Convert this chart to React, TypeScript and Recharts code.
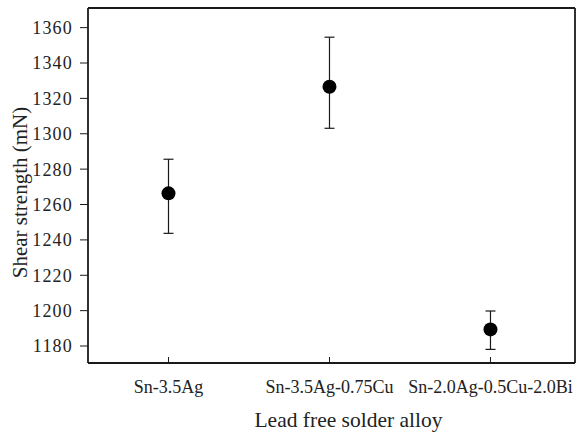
import { CartesianGrid, ErrorBar, Scatter, ScatterChart, XAxis, YAxis } from "recharts";

const alloys = ["Sn-3.5Ag", "Sn-3.5Ag-0.75Cu", "Sn-2.0Ag-0.5Cu-2.0Bi"];
const shearMean = [1266.3, 1326.6, 1189.4];
const shearLow = [1243.7, 1303.1, 1178.1];
const shearHigh = [1285.6, 1354.6, 1199.8];
const yTicks = [1180, 1200, 1220, 1240, 1260, 1280, 1300, 1320, 1340, 1360];

const FONT = '"Liberation Serif", "DejaVu Serif", serif';
const INK = "#1a1a1a";

const points = alloys.map((name, i) => ({
  x: i + 1,
  name,
  y: shearMean[i],
  err: [shearMean[i] - shearLow[i], shearHigh[i] - shearMean[i]],
}));

const X_DOMAIN: [number, number] = [0.5, 3.525];
const Y_DOMAIN: [number, number] = [1170.4, 1371.1];

// bottom ticks point inward, labels sit well below the axis
function AlloyTick(props: any) {
  const { x, y, payload } = props;
  return (
    <g>
      <line x1={x} y1={y} x2={x} y2={y - 6} stroke={INK} strokeWidth={1} />
      <text x={x} y={y + 24} dy="0.355em" textAnchor="middle" fontFamily={FONT} fontSize={18} fill="#222">
        {alloys[payload.value - 1]}
      </text>
    </g>
  );
}

function Dot(props: any) {
  return <circle cx={props.cx} cy={props.cy} r={7} fill="#000" />;
}

export default function App() {
  return (
    <div style={{ position: "absolute", left: 0, top: 0, background: "#fff" }}>
      <ScatterChart width={587} height={437} margin={{ top: 8, right: 12, bottom: 0, left: 28 }}>
        {/* only the frame: top and right edges of the plot box */}
        <CartesianGrid
          stroke={INK}
          strokeWidth={1.8}
          horizontalCoordinatesGenerator={({ offset }: any) => [offset.top]}
          verticalCoordinatesGenerator={({ offset }: any) => [offset.left + offset.width]}
        />
        <XAxis
          dataKey="x"
          type="number"
          domain={X_DOMAIN}
          ticks={[1, 2, 3]}
          allowDataOverflow
          height={74}
          tickSize={0}
          tickMargin={0}
          tickLine={false}
          tick={<AlloyTick />}
          axisLine={{ stroke: INK, strokeWidth: 1.8 }}
          label={{
            content: (p: any) => (
              <text
                x={p.viewBox.x + p.viewBox.width / 2 + 17}
                y={p.viewBox.y + 64}
                textAnchor="middle"
                fontFamily={FONT}
                fontSize={21.5}
                fill="#222"
              >
                Lead free solder alloy
              </text>
            ),
          }}
        />
        <YAxis
          dataKey="y"
          type="number"
          domain={Y_DOMAIN}
          ticks={yTicks}
          allowDataOverflow
          width={60}
          tickSize={8}
          tickMargin={7}
          tickLine={{ stroke: INK, strokeWidth: 1 }}
          axisLine={{ stroke: INK, strokeWidth: 1.8 }}
          tick={{ fontFamily: FONT, fontSize: 18, fill: "#222", letterSpacing: 1.2 }}
          label={{
            content: (p: any) => {
              const cx = p.viewBox.x - 8;
              const cy = p.viewBox.y + p.viewBox.height / 2 + 7;
              return (
                <text
                  x={cx}
                  y={cy}
                  transform={`rotate(-90 ${cx} ${cy})`}
                  textAnchor="middle"
                  dy="0.355em"
                  fontFamily={FONT}
                  fontSize={21}
                  fill="#222"
                >
                  Shear strength (mN)
                </text>
              );
            },
          }}
        />
        <Scatter data={points} dataKey="y" shape={<Dot />} isAnimationActive={false}>
          <ErrorBar dataKey="err" direction="y" width={5} stroke={INK} strokeWidth={1.2} isAnimationActive={false} />
        </Scatter>
      </ScatterChart>
    </div>
  );
}
